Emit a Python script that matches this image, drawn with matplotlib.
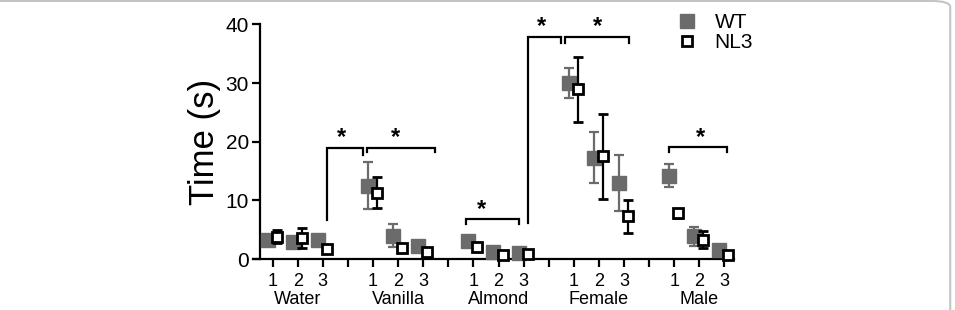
import matplotlib
matplotlib.use("Agg")
import matplotlib.pyplot as plt
from matplotlib.patches import FancyBboxPatch
from matplotlib.lines import Line2D

plt.rcParams['font.family'] = ['Liberation Sans', 'DejaVu Sans']

groups = ['Water', 'Vanilla', 'Almond', 'Female', 'Male']
sessions = ['1', '2', '3']

wt_mean = [3.2, 2.9, 3.2, 12.5, 4.0, 2.3, 3.1, 1.2, 1.0, 30.0, 17.3, 13.0, 14.2, 3.9, 1.6]
wt_err = [0.6, 0.8, 0.5, 4.0, 2.0, 0.5, 0.6, 0.4, 0.4, 2.6, 4.3, 4.8, 2.0, 1.6, 0.4]
nl3_mean = [3.8, 3.6, 1.7, 11.3, 1.9, 1.2, 2.0, 0.6, 0.9, 28.9, 17.5, 7.3, 7.8, 3.3, 0.7]
nl3_err = [1.1, 1.7, 0.5, 2.6, 0.5, 0.6, 0.6, 0.4, 0.5, 5.6, 7.3, 2.8, 0.8, 1.5, 0.4]

# significance brackets: x left, x right, top, left end, right end, star x
brackets = [
    (2.15, 3.6, 19.0, 6.6, 17.7, 2.75),
    (3.77, 6.47, 19.0, 18.2, 18.2, 4.91),
    (7.7, 9.8, 6.8, 5.9, 5.9, 8.34),
    (10.18, 11.48, 37.9, 6.1, 36.9, 10.72),
    (11.65, 14.2, 37.9, 36.9, 36.9, 12.96),
    (15.8, 18.1, 19.1, 18.3, 18.3, 17.06),
]

gray = '#6b6b6b'

x = []
for g in range(len(groups)):
    for s in range(len(sessions)):
        x.append(g * 4 + s)

fig = plt.figure(figsize=(9.55, 3.1), dpi=100)
ax = fig.add_axes([0.265, 0.1645, 0.504, 0.757])

ax.errorbar([v - 0.2 for v in x], wt_mean, yerr=wt_err, fmt='s', color=gray,
            ecolor=gray, markersize=10, elinewidth=1.6, capsize=3.5, capthick=1.6,
            clip_on=False, zorder=3)
ax.errorbar([v + 0.16 for v in x], nl3_mean, yerr=nl3_err, fmt='s', color='black',
            mfc='white', mec='black', mew=2, markersize=7, elinewidth=1.6,
            capsize=3.5, capthick=1.6, clip_on=False, zorder=4)

for xl, xr, yt, yl, yr, xs in brackets:
    ax.plot([xl, xl, xr, xr], [yl, yt, yt, yr], color='black', lw=1.6,
            clip_on=False, solid_joinstyle='miter')
    ax.text(xs, yt - 0.3, '*', ha='center', va='bottom', fontsize=17,
            fontweight='bold', clip_on=False)

ax.set_xlim(-0.78, 18.4)
ax.set_ylim(0, 40)
ax.set_yticks([0, 10, 20, 30, 40])
ax.spines['top'].set_visible(False)
ax.spines['right'].set_visible(False)
ax.spines['left'].set_position(('data', -0.5))
ax.spines['left'].set_linewidth(1.6)
ax.spines['bottom'].set_linewidth(1.6)

ticks = list(range(19))
labels = []
for t in ticks:
    labels.append(sessions[t % 4] if t % 4 < 3 else '')
ax.set_xticks(ticks)
ax.set_xticklabels(labels, fontsize=13)
ax.tick_params(axis='x', length=6, width=1.6, pad=4)
ax.tick_params(axis='y', length=6, width=1.6, labelsize=15, pad=2)
ax.set_ylabel('Time (s)', fontsize=25, labelpad=3)

for g, name in enumerate(groups):
    ax.text(g * 4 + 1, -0.135, name, transform=ax.get_xaxis_transform(),
            ha='center', va='top', fontsize=13)

handles = [
    Line2D([], [], marker='s', ls='none', color=gray, markersize=10),
    Line2D([], [], marker='s', ls='none', mfc='white', mec='black', mew=2, markersize=7),
]
fig.legend(handles, ['WT', 'NL3'], loc='upper left', bbox_to_anchor=(0.708, 0.958),
           frameon=False, fontsize=15, handletextpad=0.85, labelspacing=0.05,
           borderpad=0, borderaxespad=0, handlelength=1.0)

border = FancyBboxPatch((-0.05, -0.2), 1.045, 1.197, boxstyle='round,pad=0,rounding_size=0.02',
                        transform=fig.transFigure, fill=False, edgecolor='#c4c4c4',
                        lw=1.5, clip_on=False)
fig.patches.append(border)

fig.savefig('out.png', dpi=100)
